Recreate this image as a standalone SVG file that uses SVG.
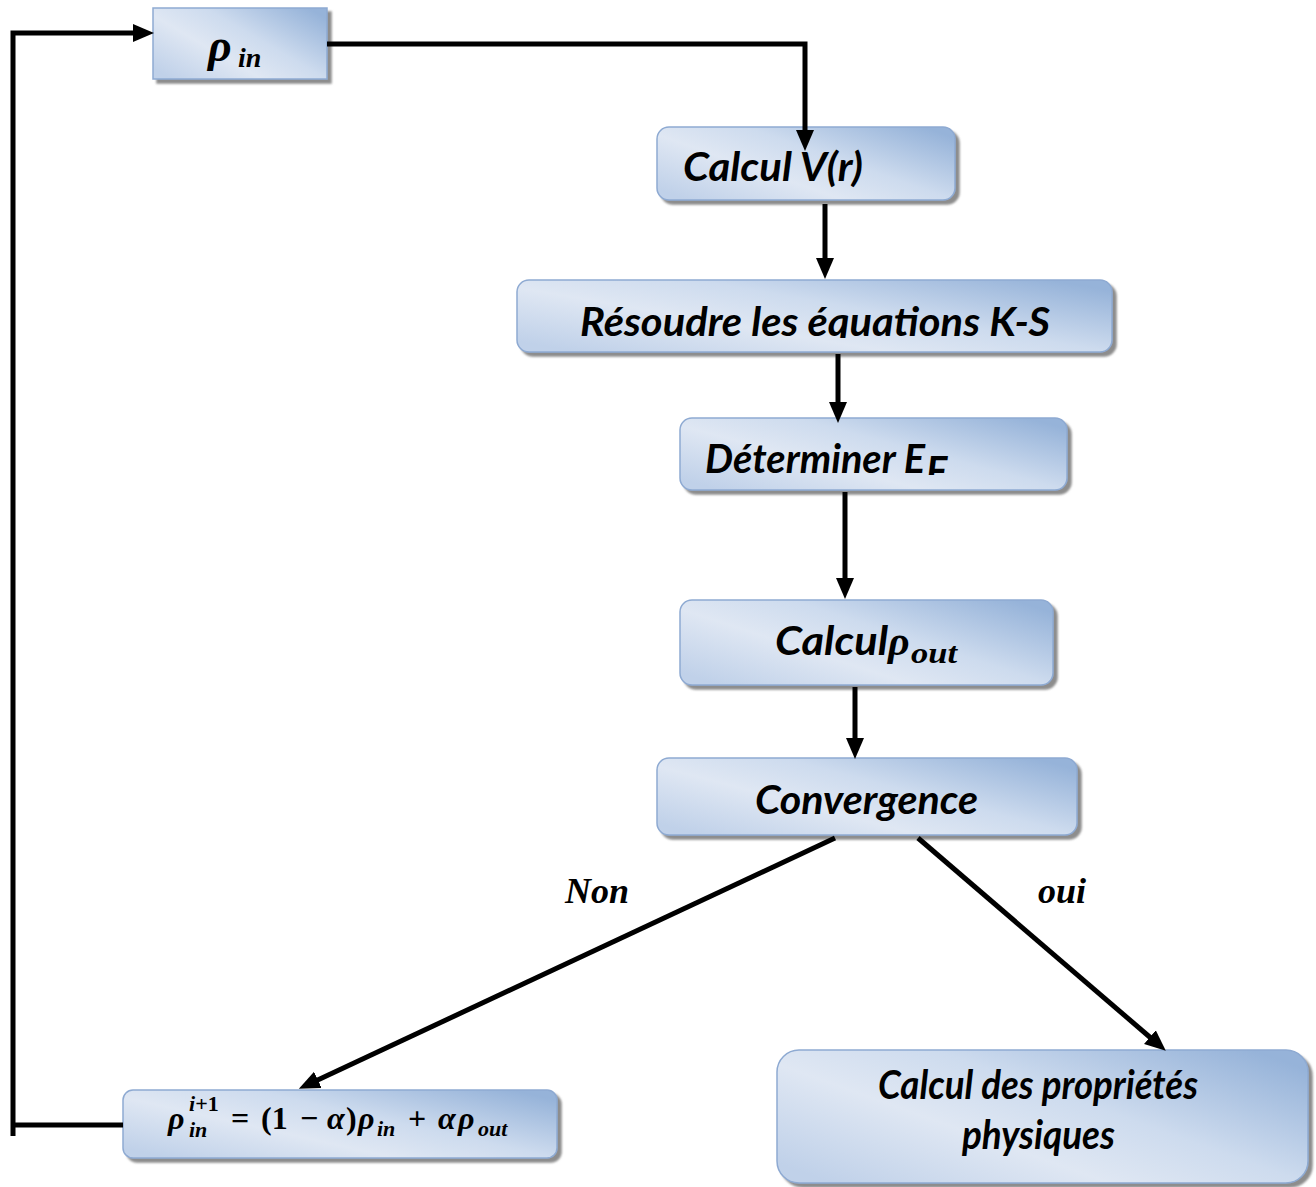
<svg xmlns="http://www.w3.org/2000/svg" width="1316" height="1187" viewBox="0 0 1316 1187">
  <style>
    .box { fill: url(#boxFill); stroke: #8eaad2; stroke-width: 1.5; filter: url(#shadow); }
    .lbl { font-family: Lato, "Liberation Sans", sans-serif; font-weight: bold; font-style: italic; font-size: 40px; fill: #000; }
    .math { font-family: "Liberation Serif", "DejaVu Serif", serif; font-weight: bold; font-style: italic; fill: #000; }
    .up { font-style: normal; }
    .edge { fill: none; stroke: #000; stroke-width: 5; }
    .tag { font-family: "Liberation Serif", serif; font-weight: bold; font-style: italic; font-size: 36px; fill: #000; }
  </style>
  <defs>
    <linearGradient id="boxFill" x1="0" y1="0.85" x2="1" y2="0.15">
      <stop offset="0" stop-color="#c0d1e9"/>
      <stop offset="0.35" stop-color="#dfe7f3"/>
      <stop offset="0.6" stop-color="#cddbee"/>
      <stop offset="1" stop-color="#96b3d9"/>
    </linearGradient>
    <filter id="shadow" x="-5%" y="-10%" width="115%" height="130%">
      <feDropShadow dx="4" dy="4" stdDeviation="1" flood-color="#6f6f6f" flood-opacity="0.8"/>
    </filter>
    <marker id="arrow" markerUnits="userSpaceOnUse" markerWidth="22" markerHeight="20" viewBox="0 0 22 20" refX="12" refY="10" orient="auto">
      <path d="M0,1 L21,10 L0,19 z" fill="#000"/>
    </marker>
    <clipPath id="clipKS"><rect x="517" y="280" width="595" height="58"/></clipPath>
    <clipPath id="clipEF"><rect x="680" y="418" width="387" height="57"/></clipPath>
  </defs>

  <!-- rho_in -->
  <g id="node-rho-in">
    <rect class="box" x="153" y="8" width="174" height="71"/>
    <text class="math" x="208" y="61" font-size="46">ρ</text>
    <text class="math" x="238" y="67" font-size="28">in</text>
  </g>

  <g id="node-potential">
    <rect class="box" x="657" y="127" width="298" height="73" rx="12"/>
    <text class="lbl" x="683" y="181" textLength="180" lengthAdjust="spacingAndGlyphs">Calcul V(r)</text>
  </g>

  <g id="node-ks">
    <rect class="box" x="517" y="280" width="595" height="72" rx="12"/>
    <text class="lbl" x="580" y="336" textLength="470" lengthAdjust="spacingAndGlyphs" clip-path="url(#clipKS)">Résoudre les équations K-S</text>
  </g>

  <g id="node-fermi">
    <rect class="box" x="680" y="418" width="387" height="72" rx="12"/>
    <g clip-path="url(#clipEF)">
      <text class="lbl" x="705" y="473" textLength="220" lengthAdjust="spacingAndGlyphs">Déterminer E</text>
      <text class="lbl" x="926" y="485" font-size="28">F</text>
    </g>
  </g>

  <g id="node-rho-out">
    <rect class="box" x="680" y="600" width="373" height="85" rx="12"/>
    <text class="lbl" x="775" y="655" textLength="113" lengthAdjust="spacingAndGlyphs">Calcul</text>
    <text class="math" x="888" y="655" font-size="42">ρ</text>
    <text class="math" x="911" y="663" font-size="30" textLength="46" lengthAdjust="spacingAndGlyphs">out</text>
  </g>

  <g id="node-convergence">
    <rect class="box" x="657" y="758" width="420" height="77" rx="12"/>
    <text class="lbl" x="755" y="814" textLength="223" lengthAdjust="spacingAndGlyphs">Convergence</text>
  </g>

  <!-- mixing formula -->
  <g id="node-mixing">
    <rect class="box" x="123" y="1090" width="434" height="68" rx="10"/>
    <text class="math" font-size="32">
      <tspan x="168" y="1129">ρ</tspan>
      <tspan x="189" y="1111" font-size="22">i<tspan class="up">+1</tspan></tspan>
      <tspan x="189" y="1137" font-size="22">in</tspan>
      <tspan class="up" x="231" y="1129">=</tspan>
      <tspan class="up" x="261" y="1129">(1</tspan>
      <tspan class="up" x="300" y="1129">−</tspan>
      <tspan x="327" y="1129">α</tspan>
      <tspan class="up" x="346" y="1129">)</tspan>
      <tspan x="358" y="1129">ρ</tspan>
      <tspan x="377" y="1136" font-size="22">in</tspan>
      <tspan class="up" x="408" y="1129">+</tspan>
      <tspan x="438" y="1129">α</tspan>
      <tspan x="458" y="1129">ρ</tspan>
      <tspan x="478" y="1136" font-size="22">out</tspan>
    </text>
  </g>

  <g id="node-properties">
    <rect class="box" x="777" y="1050" width="531" height="133" rx="22"/>
    <text class="lbl" x="878" y="1099" textLength="320" lengthAdjust="spacingAndGlyphs">Calcul des propriétés</text>
    <text class="lbl" x="962" y="1149" textLength="153" lengthAdjust="spacingAndGlyphs">physiques</text>
  </g>

  <!-- connectors, drawn last so arrowheads sit on the boxes -->
  <g id="connectors">
    <polyline class="edge" points="13,1136 13,33 145,33" marker-end="url(#arrow)"/>
    <polyline class="edge" points="327,44 805,44 805,142" marker-end="url(#arrow)"/>
    <line class="edge" x1="825" y1="204" x2="825" y2="270" marker-end="url(#arrow)"/>
    <line class="edge" x1="838" y1="354" x2="838" y2="414" marker-end="url(#arrow)"/>
    <line class="edge" x1="845" y1="492" x2="845" y2="590" marker-end="url(#arrow)"/>
    <line class="edge" x1="855" y1="687" x2="855" y2="750" marker-end="url(#arrow)"/>
    <line class="edge" x1="835" y1="838" x2="307" y2="1085" marker-end="url(#arrow)"/>
    <line class="edge" x1="918" y1="838" x2="1159" y2="1045" marker-end="url(#arrow)"/>
    <line class="edge" x1="11" y1="1125" x2="123" y2="1125"/>
  </g>

  <!-- branch labels -->
  <text class="tag" x="565" y="903">Non</text>
  <text class="tag" x="1038" y="903">oui</text>
</svg>
